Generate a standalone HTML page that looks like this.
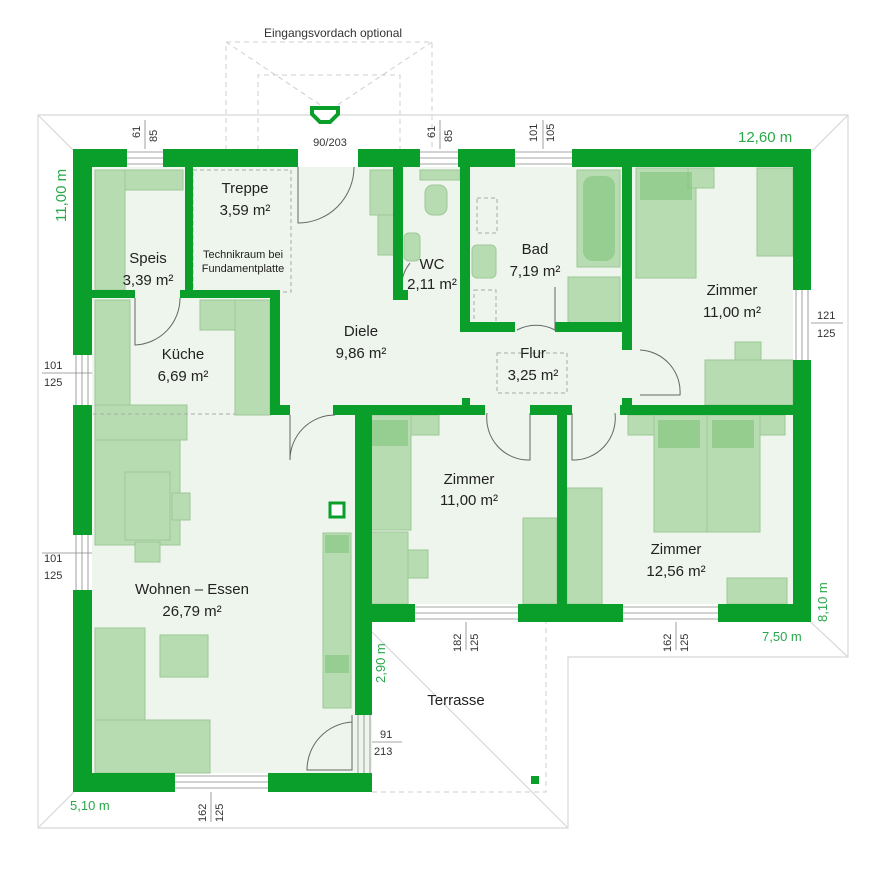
<!DOCTYPE html>
<html><head><meta charset="utf-8"><style>
html,body{margin:0;padding:0;background:#fff}
svg{display:block}
text{font-family:"Liberation Sans","DejaVu Sans",sans-serif}
</style></head><body>
<svg width="893" height="869" viewBox="0 0 893 869" xmlns="http://www.w3.org/2000/svg">
<!-- roof outline -->
<g fill="none" stroke="#d8d8d8" stroke-width="1.2">
<polygon points="38,115 848,115 848,657 568,657 568,828 38,828"/>
<line x1="38" y1="115" x2="318" y2="395"/>
<line x1="848" y1="115" x2="568" y2="395"/>
<line x1="38" y1="828" x2="318" y2="548"/>
<line x1="318" y1="395" x2="568" y2="395"/>
<line x1="318" y1="395" x2="318" y2="548"/>
<line x1="848" y1="657" x2="568" y2="395"/>
<line x1="568" y1="828" x2="372" y2="632"/>
</g>
<g fill="none" stroke="#cfcfcf" stroke-dasharray="5,4">
<polyline points="226,150 226,42 432,42 432,150"/>
<polyline points="258,150 258,75 400,75 400,150"/>
<line x1="226" y1="42" x2="328" y2="110"/><line x1="432" y1="42" x2="330" y2="110"/>
<polyline points="372,792 546,792 546,622"/>
</g>
<text x="333" y="37" font-size="12" fill="#333" text-anchor="middle">Eingangsvordach optional</text>
<path d="M312,108 h26 v6 l-8,8 h-10 l-8,-8z" fill="#fff" stroke="#0a9e2a" stroke-width="4"/>
<text x="330" y="146" font-size="11" fill="#333" text-anchor="middle">90/203</text>
<!-- interior fill -->
<path d="M92,167 H793 V604 H372 V773 H92 Z" fill="#eef5ec"/>
<!-- furniture -->
<g fill="#b7dcb1" stroke="#9cc896" stroke-width="1">
<rect x="95" y="170" width="30" height="120"/><rect x="125" y="170" width="58" height="20"/>
<rect x="95" y="300" width="35" height="140"/><rect x="95" y="405" width="92" height="35"/>
<rect x="200" y="300" width="70" height="30"/><rect x="235" y="300" width="35" height="115"/>
<rect x="95" y="440" width="85" height="105"/><rect x="125" y="472" width="45" height="68"/>
<rect x="172" y="493" width="18" height="27"/><rect x="135" y="542" width="25" height="20"/>
<rect x="95" y="628" width="50" height="145"/><rect x="95" y="720" width="115" height="53"/>
<rect x="160" y="635" width="48" height="42"/>
<rect x="323" y="533" width="28" height="175"/>
<rect x="370" y="170" width="25" height="45"/><rect x="378" y="215" width="20" height="40"/>
<rect x="420" y="170" width="40" height="10"/><rect x="425" y="185" width="22" height="30" rx="8"/>
<rect x="404" y="233" width="16" height="28" rx="5"/>
<rect x="472" y="245" width="24" height="33" rx="5"/>
<rect x="577" y="170" width="43" height="97"/><rect x="568" y="277" width="52" height="52"/>
<rect x="636" y="168" width="60" height="110"/><rect x="688" y="168" width="26" height="20"/>
<rect x="757" y="168" width="36" height="88"/>
<rect x="705" y="360" width="88" height="45"/><rect x="735" y="342" width="26" height="18"/>
<rect x="654" y="415" width="106" height="117"/><rect x="628" y="415" width="26" height="20"/><rect x="760" y="415" width="25" height="20"/>
<rect x="363" y="415" width="48" height="115"/><rect x="411" y="415" width="28" height="20"/>
<rect x="363" y="532" width="45" height="72"/><rect x="408" y="550" width="20" height="28"/>
<rect x="523" y="518" width="34" height="86"/><rect x="567" y="488" width="35" height="116"/>
<rect x="727" y="578" width="60" height="26"/>
</g>
<g fill="#7fc47a" opacity="0.6">
<rect x="640" y="172" width="52" height="28"/><rect x="658" y="420" width="42" height="28"/><rect x="712" y="420" width="42" height="28"/>
<rect x="583" y="176" width="32" height="85" rx="10"/><rect x="366" y="420" width="42" height="26"/><rect x="325" y="535" width="24" height="18"/><rect x="325" y="655" width="24" height="18"/>
</g>
<line x1="707" y1="415" x2="707" y2="532" stroke="#9cc896"/>
<!-- stairs dashed -->
<g stroke="#aaa" stroke-dasharray="4,3" fill="none">
<rect x="193" y="170" width="98" height="122"/>
<rect x="477" y="198" width="20" height="35"/><rect x="474" y="290" width="22" height="38"/>
<rect x="497" y="353" width="70" height="40"/>
<line x1="93" y1="414" x2="235" y2="414"/>
</g>
<!-- doors -->
<g fill="none" stroke="#666" stroke-width="1">
<path d="M298,167 V223 A56,56 0 0 0 354,167"/>
<path d="M135,298 V345 A47,47 0 0 0 180,298"/>
<path d="M290,415 V460 A45,45 0 0 1 335,415"/>
<path d="M410,263 A40,40 0 0 0 403,300"/>
<path d="M555,287 V330 A40,40 0 0 0 517,330"/>
<path d="M640,350 A42,42 0 0 1 680,395 H640"/>
<path d="M487,413 A42,42 0 0 0 530,460 V413"/>
<path d="M572,413 V460 A42,42 0 0 0 615,413"/>
<path d="M352,715 V770 H307 A48,48 0 0 1 352,722"/>
</g>
<!-- walls -->
<g fill="#0a9e2a">
<rect x="73" y="149" width="54" height="18"/><rect x="163" y="149" width="135" height="18"/>
<rect x="358" y="149" width="62" height="18"/><rect x="458" y="149" width="57" height="18"/>
<rect x="572" y="149" width="239" height="18"/>
<rect x="73" y="149" width="19" height="206"/><rect x="73" y="405" width="19" height="130"/><rect x="73" y="590" width="19" height="202"/>
<rect x="73" y="773" width="102" height="19"/><rect x="268" y="773" width="104" height="19"/>
<rect x="793" y="149" width="18" height="141"/><rect x="793" y="360" width="18" height="262"/>
<rect x="355" y="604" width="60" height="18"/><rect x="518" y="604" width="105" height="18"/><rect x="718" y="604" width="93" height="18"/>
<rect x="355" y="410" width="17" height="305"/>
<rect x="185" y="167" width="8" height="125"/>
<rect x="92" y="290" width="43" height="8"/><rect x="180" y="290" width="100" height="8"/>
<rect x="270" y="290" width="10" height="125"/><rect x="270" y="405" width="20" height="10"/>
<rect x="393" y="167" width="10" height="133"/><rect x="393" y="290" width="15" height="10"/>
<rect x="460" y="167" width="10" height="165"/><rect x="460" y="322" width="55" height="10"/>
<rect x="555" y="322" width="70" height="10"/>
<rect x="622" y="167" width="10" height="183"/>
<rect x="333" y="405" width="152" height="10"/><rect x="462" y="398" width="8" height="10"/>
<rect x="530" y="405" width="42" height="10"/><rect x="557" y="405" width="10" height="199"/>
<rect x="620" y="405" width="191" height="10"/><rect x="622" y="398" width="10" height="10"/>
<rect x="531" y="776" width="8" height="8"/>
</g>
<!-- windows -->
<g stroke="#888" stroke-width="0.8" fill="none">
<path d="M127,152 H163 M127,158 H163 M127,164 H163"/>
<path d="M420,152 H458 M420,158 H458 M420,164 H458"/>
<path d="M515,152 H572 M515,158 H572 M515,164 H572"/>
<path d="M76,355 V405 M82,355 V405 M88,355 V405"/>
<path d="M76,535 V590 M82,535 V590 M88,535 V590"/>
<path d="M796,290 V360 M802,290 V360 M808,290 V360"/>
<path d="M175,776 H268 M175,782 H268 M175,788 H268"/>
<path d="M415,607 H518 M415,613 H518 M415,619 H518"/>
<path d="M623,607 H718 M623,613 H718 M623,619 H718"/>
<path d="M358,715 V773 M364,715 V773 M370,715 V773"/>
<path d="M145,120 V149 M440,120 V149 M543,120 V149 M211,792 V822 M466,622 V650 M676,622 V650"/>
<path d="M42,373 H92 M42,553 H92 M811,323 H843 M372,742 H402"/>
</g>
<!-- dimension texts -->
<g font-size="11" fill="#333">
<g transform="translate(140,138) rotate(-90)"><text>61</text></g>
<g transform="translate(157,142) rotate(-90)"><text>85</text></g>
<g transform="translate(435,138) rotate(-90)"><text>61</text></g>
<g transform="translate(452,142) rotate(-90)"><text>85</text></g>
<g transform="translate(537,142) rotate(-90)"><text>101</text></g>
<g transform="translate(554,142) rotate(-90)"><text>105</text></g>
<g transform="translate(206,822) rotate(-90)"><text>162</text></g>
<g transform="translate(223,822) rotate(-90)"><text>125</text></g>
<g transform="translate(461,652) rotate(-90)"><text>182</text></g>
<g transform="translate(478,652) rotate(-90)"><text>125</text></g>
<g transform="translate(671,652) rotate(-90)"><text>162</text></g>
<g transform="translate(688,652) rotate(-90)"><text>125</text></g>
<text x="44" y="369">101</text><text x="44" y="386">125</text>
<text x="44" y="562">101</text><text x="44" y="579">125</text>
<text x="817" y="319">121</text><text x="817" y="337">125</text>
<text x="380" y="738">91</text><text x="374" y="755">213</text>
</g>
<g font-size="15" fill="#2aa84a">
<text x="738" y="142">12,60 m</text>
<g transform="translate(66,222) rotate(-90)"><text>11,00 m</text></g>
<text x="762" y="641" font-size="13">7,50 m</text>
<g transform="translate(827,622) rotate(-90)"><text font-size="13">8,10 m</text></g>
<g transform="translate(385,683) rotate(-90)"><text font-size="13">2,90 m</text></g>
<text x="70" y="810" font-size="13">5,10 m</text>
</g>
<!-- room labels -->
<g font-size="15" fill="#222" text-anchor="middle">
<text x="245" y="193">Treppe</text><text x="245" y="215">3,59 m²</text>
<text x="243" y="258" font-size="11">Technikraum bei</text><text x="243" y="272" font-size="11">Fundamentplatte</text>
<text x="148" y="263">Speis</text><text x="148" y="285">3,39 m²</text>
<text x="183" y="359">Küche</text><text x="183" y="381">6,69 m²</text>
<text x="361" y="336">Diele</text><text x="361" y="358">9,86 m²</text>
<text x="432" y="269">WC</text><text x="432" y="289">2,11 m²</text>
<text x="535" y="254">Bad</text><text x="535" y="276">7,19 m²</text>
<text x="732" y="295">Zimmer</text><text x="732" y="317">11,00 m²</text>
<text x="533" y="358">Flur</text><text x="533" y="380">3,25 m²</text>
<text x="469" y="484">Zimmer</text><text x="469" y="505">11,00 m²</text>
<text x="676" y="554">Zimmer</text><text x="676" y="576">12,56 m²</text>
<text x="192" y="594">Wohnen – Essen</text><text x="192" y="616">26,79 m²</text>
<text x="456" y="705">Terrasse</text>
</g>
<rect x="330" y="503" width="14" height="14" fill="#fff" stroke="#0a9e2a" stroke-width="3"/>
</svg>
</body></html>
